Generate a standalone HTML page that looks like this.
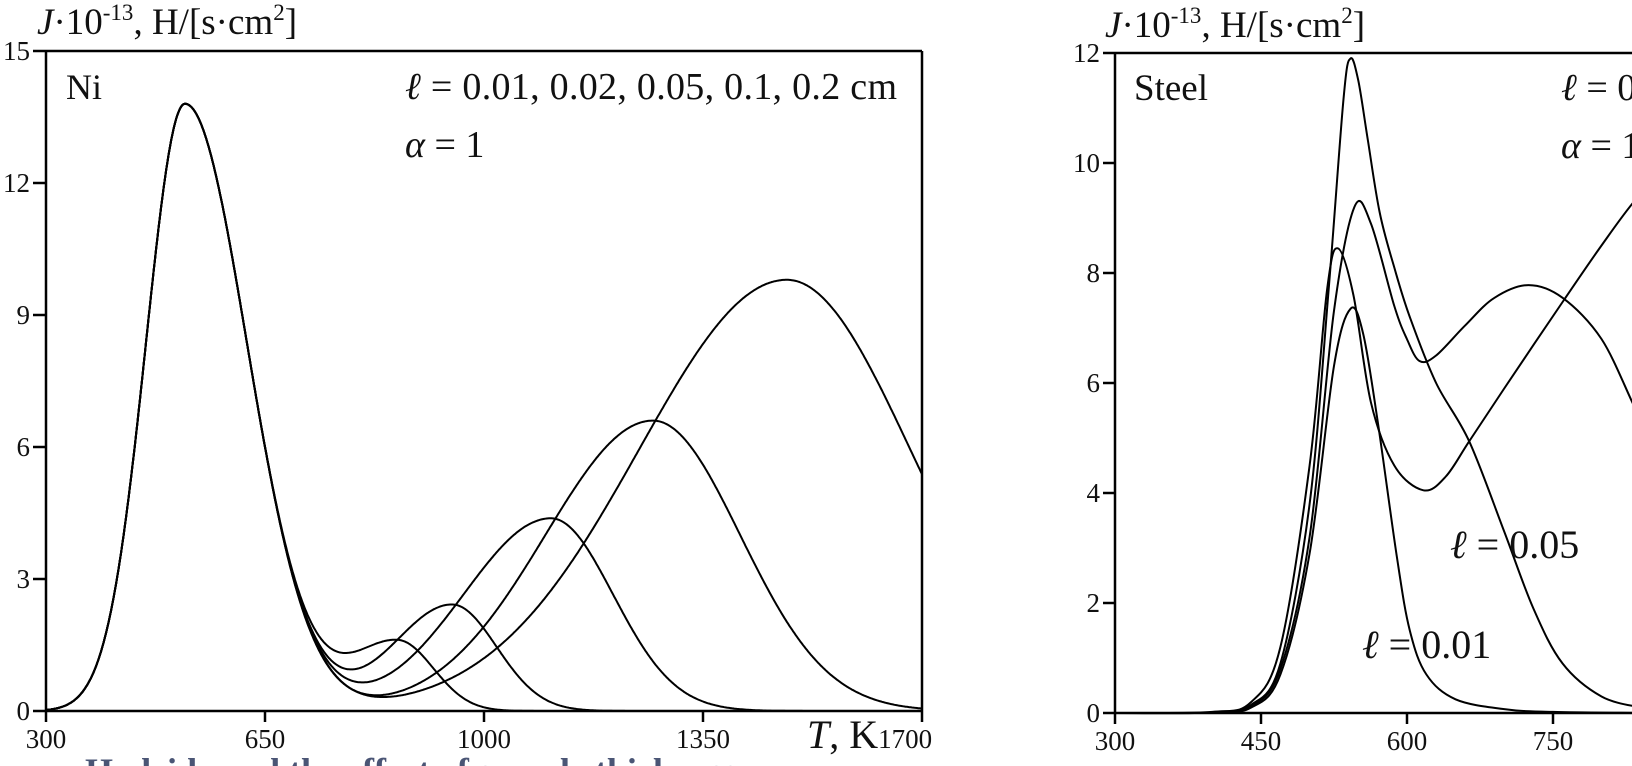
<!DOCTYPE html>
<html><head><meta charset="utf-8"><style>
html,body{margin:0;padding:0;background:#fff;width:1632px;height:766px;overflow:hidden}
svg{display:block}
text{font-family:"Liberation Serif",serif;fill:#111}
</style></head><body>
<svg id="s" width="1632" height="766" viewBox="0 0 1632 766">
<g stroke="#000" stroke-width="2.5" fill="none">
<line x1="33" y1="51" x2="922" y2="51"/>
<line x1="46" y1="51" x2="46" y2="712"/>
<line x1="33" y1="711" x2="922" y2="711"/>
<line x1="922" y1="51" x2="922" y2="722"/>
<line x1="33" y1="579" x2="46" y2="579"/>
<line x1="33" y1="447" x2="46" y2="447"/>
<line x1="33" y1="315" x2="46" y2="315"/>
<line x1="33" y1="183" x2="46" y2="183"/>
<line x1="46" y1="711" x2="46" y2="722"/>
<line x1="265" y1="711" x2="265" y2="722"/>
<line x1="484" y1="711" x2="484" y2="722"/>
<line x1="703" y1="711" x2="703" y2="722"/>
<line x1="1103" y1="53" x2="1632" y2="53"/>
<line x1="1115" y1="53" x2="1115" y2="714"/>
<line x1="1103" y1="713" x2="1632" y2="713"/>
<line x1="1103" y1="603" x2="1115" y2="603"/>
<line x1="1103" y1="493" x2="1115" y2="493"/>
<line x1="1103" y1="383" x2="1115" y2="383"/>
<line x1="1103" y1="273" x2="1115" y2="273"/>
<line x1="1103" y1="163" x2="1115" y2="163"/>
<line x1="1115" y1="713" x2="1115" y2="724"/>
<line x1="1261" y1="713" x2="1261" y2="724"/>
<line x1="1407" y1="713" x2="1407" y2="724"/>
<line x1="1553" y1="713" x2="1553" y2="724"/>
</g>
<g id="curves" stroke="#000" stroke-width="2" fill="none"></g>
<g font-size="27" text-anchor="end">
<text x="30" y="60">15</text><text x="30" y="192">12</text><text x="30" y="324">9</text>
<text x="30" y="456">6</text><text x="30" y="588">3</text><text x="30" y="720">0</text>
</g>
<g font-size="27" text-anchor="middle">
<text x="46" y="748">300</text><text x="265" y="748">650</text><text x="484" y="748">1000</text><text x="703" y="748">1350</text>
</g>
<text x="807" y="748" font-size="40"><tspan font-style="italic">T</tspan>, K<tspan font-size="27">1700</tspan></text>
<text x="37" y="34" font-size="37"><tspan font-style="italic">J</tspan>·10<tspan font-size="23" dy="-14">-13</tspan><tspan dy="14">, H/[s·cm</tspan><tspan font-size="23" dy="-14">2</tspan><tspan dy="14">]</tspan></text>
<text x="66" y="99" font-size="36">Ni</text>
<text x="405" y="99" font-size="38" textLength="492"><tspan font-style="italic">ℓ</tspan> = 0.01, 0.02, 0.05, 0.1, 0.2 cm</text>
<text x="405" y="157" font-size="38"><tspan font-style="italic">α</tspan> = 1</text>
<g font-size="27" text-anchor="end">
<text x="1100" y="62">12</text><text x="1100" y="172">10</text><text x="1100" y="282">8</text>
<text x="1100" y="392">6</text><text x="1100" y="502">4</text><text x="1100" y="612">2</text><text x="1100" y="722">0</text>
</g>
<g font-size="27" text-anchor="middle">
<text x="1115" y="750">300</text><text x="1261" y="750">450</text><text x="1407" y="750">600</text><text x="1553" y="750">750</text>
</g>
<text x="1105" y="37" font-size="37"><tspan font-style="italic">J</tspan>·10<tspan font-size="23" dy="-14">-13</tspan><tspan dy="14">, H/[s·cm</tspan><tspan font-size="23" dy="-14">2</tspan><tspan dy="14">]</tspan></text>
<text x="1134" y="100" font-size="37">Steel</text>
<text x="1561" y="100" font-size="38"><tspan font-style="italic">ℓ</tspan> = 0.01</text>
<text x="1561" y="158" font-size="38"><tspan font-style="italic">α</tspan> = 1</text>
<text x="1450" y="558" font-size="40"><tspan font-style="italic">ℓ</tspan> = 0.05</text>
<text x="1362" y="658" font-size="40"><tspan font-style="italic">ℓ</tspan> = 0.01</text>
<text x="85" y="783" font-size="36" font-weight="bold" style="fill:#4a5575">Hydride and the effect of sample thickness on</text>
</svg>
<script>
(function(){
var g=document.getElementById('curves');
function add(d){var p=document.createElementNS('http://www.w3.org/2000/svg','path');p.setAttribute('d',d);g.appendChild(p);}
function ag(T,A,c,wl,wr){var w=T<c?wl:wr;var z=(T-c)/w;return A*Math.exp(-z*z);}
function P1(T){return ag(T,13.8,522,88,140);}
var P=[[1.58,863,106,80],[2.42,949,134,100],[4.38,1107,197,140],[6.6,1270,243,197],[9.8,1484,334,279]];
P.forEach(function(q){
 var d='';
 for(var T=300;T<=1700;T+=2){
  var v=P1(T)+ag(T,q[0],q[1],q[2],q[3]);
  var x=46+(T-300)*219/350, y=711-44*v;
  d+=(T===300?'M':'L')+x.toFixed(1)+' '+y.toFixed(1);
 }
 add(d);
});
function X(T){return 1115+0.973*(T-300);} function Y(v){return 713-55*v;}
function cr(pts){
 var p=pts.map(function(a){return [X(a[0]),Y(a[1])];});
 var d='M'+p[0][0]+' '+p[0][1];
 for(var i=0;i<p.length-1;i++){
  var p0=p[i-1]||p[i],p1=p[i],p2=p[i+1],p3=p[i+2]||p2;
  var c1x=p1[0]+(p2[0]-p0[0])/6,c1y=p1[1]+(p2[1]-p0[1])/6;
  var c2x=p2[0]-(p3[0]-p1[0])/6,c2y=p2[1]-(p3[1]-p1[1])/6;
  d+='C'+c1x.toFixed(1)+' '+c1y.toFixed(1)+' '+c2x.toFixed(1)+' '+c2y.toFixed(1)+' '+p2[0].toFixed(1)+' '+p2[1].toFixed(1);
 }
 add(d);
}
cr([[300,0],[400,0.01],[440,0.15],[470,0.9],[500,3.8],[520,7.8],[535,11.2],[542,11.9],[550,11.5],[560,10.4],[572,9.1],[587,8.1],[603,7.2],[630,6.0],[664,4.94],[700,3.3],[730,1.9],[760,0.9],[800,0.3],[840,0.1]]);
cr([[300,0],[400,0.01],[440,0.12],[470,0.8],[500,3.2],[525,7.3],[546,9.2],[563,8.9],[587,7.4],[600,6.8],[613,6.4],[630,6.5],[660,7.05],[690,7.55],[725,7.78],[760,7.55],[800,6.8],[833,5.6],[850,5.0]]);
cr([[300,0],[400,0.02],[440,0.2],[470,1.2],[500,4.5],[518,7.7],[529,8.45],[545,7.6],[563,5.65],[587,4.5],[617,4.05],[640,4.3],[664,4.94],[700,5.9],[761,7.5],[800,8.5],[833,9.29],[870,10.0]]);
cr([[300,0],[400,0.01],[440,0.1],[470,0.7],[500,2.9],[525,6.3],[542,7.35],[555,6.9],[570,5.3],[590,2.8],[603,1.5],[620,0.7],[650,0.25],[700,0.07],[750,0.02],[840,0]]);
})();
</script>
</body></html>
